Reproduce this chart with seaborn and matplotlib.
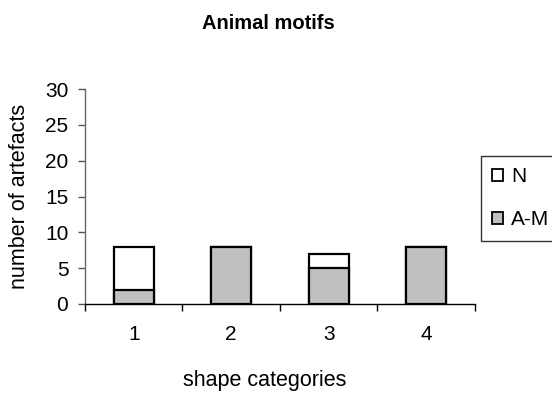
import matplotlib
matplotlib.use("Agg")
import matplotlib.pyplot as plt
import seaborn as sns
import pandas as pd
from matplotlib.patches import Patch

# data
categories = ["1", "2", "3", "4"]
am_values = [2, 8, 5, 8]
n_values = [6, 0, 2, 0]

sns.set_theme(style="white")
plt.rcParams['font.family'] = ['Liberation Sans', 'DejaVu Sans']
plt.rcParams['text.color'] = 'black'
plt.rcParams['axes.labelcolor'] = 'black'
plt.rcParams['xtick.color'] = 'black'
plt.rcParams['ytick.color'] = 'black'

df = pd.DataFrame({
    "category": categories,
    "A-M": am_values,
    "N": n_values,
})
df["total"] = df["A-M"] + df["N"]

fig = plt.figure(figsize=(5.52, 3.93), dpi=100)
ax = fig.add_axes([0.154, 0.2265, 0.706, 0.547])

# stacked bars: total (white N on top) first, then the A-M part over it
sns.barplot(data=df, x="category", y="total", color="white", edgecolor="black",
            linewidth=1.6, width=0.41, ax=ax, saturation=1)
sns.barplot(data=df, x="category", y="A-M", color="#c0c0c0", edgecolor="black",
            linewidth=1.6, width=0.41, ax=ax, saturation=1)

ax.set_ylim(0, 30)
ax.set_yticks(range(0, 31, 5))
ax.set_xlim(-0.5, 3.5)
ax.set_xticks([-0.5, 0.5, 1.5, 2.5, 3.5], minor=True)
ax.tick_params(axis="x", which="major", length=0, labelsize=15, pad=15)
ax.tick_params(axis="x", which="minor", length=5, width=1, color="black", direction="out")
ax.tick_params(axis="y", length=5, width=1, color="#555555", direction="out", labelsize=15, pad=7)
ax.tick_params(bottom=True, left=True, which="both")

for side in ["top", "right"]:
    ax.spines[side].set_visible(False)
ax.spines["left"].set_color("#666666")
ax.spines["bottom"].set_color("black")
ax.spines["left"].set_linewidth(1)
ax.spines["bottom"].set_linewidth(1)

ax.set_xlabel("shape categories", fontsize=15.5)
ax.xaxis.set_label_coords(0.4615, -0.358)
ax.xaxis.label.set_va("center")
ax.set_ylabel("number of artefacts", fontsize=15.5)
ax.yaxis.set_label_coords(-0.167, 0.5)
ax.yaxis.label.set_va("center")
fig.text(0.4855, 0.940, "Animal motifs", fontsize=14.5, fontweight="bold",
         ha="center", va="center")

handles = [
    Patch(facecolor="white", edgecolor="black", linewidth=1.3, label="N"),
    Patch(facecolor="#c0c0c0", edgecolor="black", linewidth=1.3, label="A-M"),
]
leg = fig.legend(handles=handles, loc="upper left", bbox_to_anchor=(0.871, 0.603),
                 frameon=True, fontsize=15, handlelength=0.53, handleheight=0.53,
                 handletextpad=0.38, labelspacing=1.15, borderpad=0.55, fancybox=False,
                 borderaxespad=0)
leg.get_frame().set_edgecolor("black")
leg.get_frame().set_linewidth(1)

fig.savefig("out.png", dpi=100)
